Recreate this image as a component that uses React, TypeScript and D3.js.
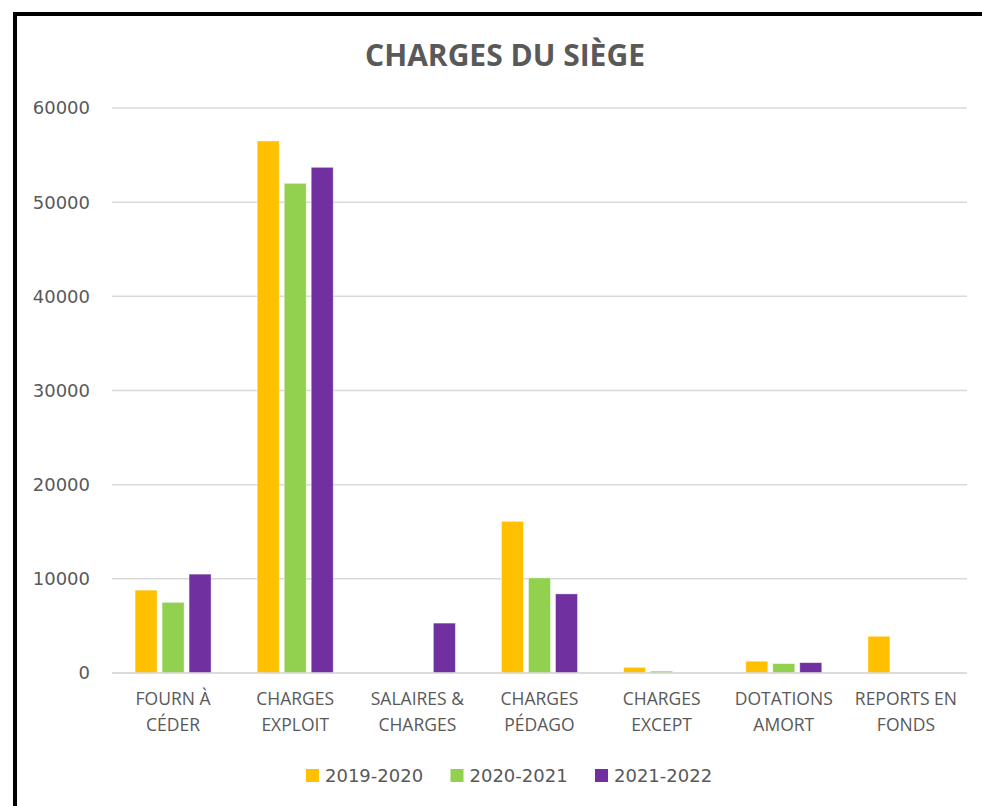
import React from "react";
import * as d3 from "d3";

const categories: string[][] = [
  ["FOURN À", "CÉDER"],
  ["CHARGES", "EXPLOIT"],
  ["SALAIRES &", "CHARGES"],
  ["CHARGES", "PÉDAGO"],
  ["CHARGES", "EXCEPT"],
  ["DOTATIONS", "AMORT"],
  ["REPORTS EN", "FONDS"],
];
const seriesNames = ["2019-2020", "2020-2021", "2021-2022"];
const seriesColors = ["#FFC000", "#92D050", "#7030A0"];
const values2019 = [8800, 56500, 0, 16100, 600, 1250, 3900];
const values2020 = [7500, 52000, 0, 10100, 200, 1000, 0];
const values2021 = [10500, 53700, 5300, 8400, 0, 1100, 0];
const seriesValues = [values2019, values2020, values2021];
const yTicks = [0, 10000, 20000, 30000, 40000, 50000, 60000];

export default function App() {
  const W = 982;
  const H = 806;
  const left = 112;
  const right = 967;
  const top = 108;
  const bottom = 673;
  const catKeys = categories.map((c) => c.join(" "));
  const x0 = d3
    .scaleBand<string>()
    .domain(catKeys)
    .range([left, right])
    .paddingInner(0.337)
    .paddingOuter(0.337 / 2);
  const x1 = d3
    .scaleBand<string>()
    .domain(seriesNames)
    .range([0, x0.bandwidth()])
    .paddingInner(0.185)
    .paddingOuter(0.0925);
  const y = d3.scaleLinear().domain([0, 60000]).range([bottom, top]);
  const textColor = "#595959";
  const numFont = "DejaVu Sans";
  const txtFont = "'Open Sans'";

  return (
    <svg
      width={W}
      height={H}
      style={{ position: "absolute", left: 0, top: 0, background: "#fff" }}
    >
      <rect x={0} y={0} width={W} height={H} fill="#fff" />
      <rect x={15} y={14} width={1000} height={1000} fill="#fff" stroke="#000" strokeWidth={4} />
      <text
        x={505}
        y={66}
        textAnchor="middle"
        fontFamily={txtFont}
        fontWeight="bold"
        fontSize={30}
        fill={textColor}
      >
        CHARGES DU SIÈGE
      </text>
      {yTicks.map((t) => (
        <g key={t}>
          <line x1={left} x2={right} y1={y(t)} y2={y(t)} stroke="#D9D9D9" strokeWidth={1.5} />
          <text
            x={90}
            y={y(t)}
            dy="0.36em"
            textAnchor="end"
            fontFamily={numFont}
            fontSize={18}
            fill={textColor}
          >
            {t}
          </text>
        </g>
      ))}
      {seriesValues.map((vals, si) =>
        vals.map((v, ci) =>
          v > 0 ? (
            <rect
              key={`${si}-${ci}`}
              x={(x0(catKeys[ci]) as number) + (x1(seriesNames[si]) as number)}
              y={y(v)}
              width={x1.bandwidth()}
              height={y(0) - y(v)}
              fill={seriesColors[si]}
              stroke="#fff"
              strokeOpacity={0.5}
              strokeWidth={0.8}
            />
          ) : null
        )
      )}
      <line x1={left} x2={right} y1={y(0)} y2={y(0)} stroke="#D9D9D9" strokeWidth={1.5} />
      {categories.map((lines, ci) => {
        const cx = (x0(catKeys[ci]) as number) + x0.bandwidth() / 2;
        return (
          <text
            key={ci}
            textAnchor="middle"
            fontFamily={txtFont}
            fontSize={17.5}
            fill={textColor}
          >
            {lines.map((l, li) => (
              <tspan key={li} x={cx} y={705 + li * 26}>
                {l}
              </tspan>
            ))}
          </text>
        );
      })}
      {seriesNames.map((name, si) => {
        const lx = 306 + si * 144.5;
        return (
          <g key={name}>
            <rect x={lx} y={769} width={13} height={13} fill={seriesColors[si]} />
            <text x={lx + 19} y={782} fontFamily={numFont} fontSize={18} fill={textColor}>
              {name}
            </text>
          </g>
        );
      })}
    </svg>
  );
}
